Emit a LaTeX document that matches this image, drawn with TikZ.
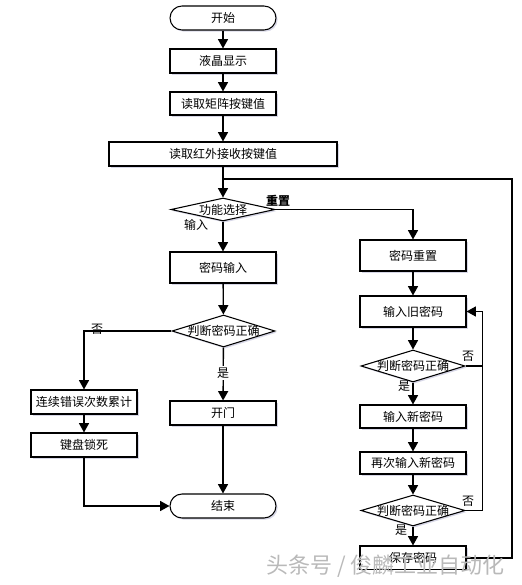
\documentclass[tikz,border=0pt]{standalone}
\usepackage{fontspec}
\setmainfont{Noto Sans CJK SC}
\usetikzlibrary{shapes.geometric,arrows.meta,shadows}
\begin{document}
\begin{tikzpicture}[x=0.75pt,y=-0.75pt,
  font=\fontsize{9}{10}\selectfont,
  sh/.style={drop shadow={shadow xshift=1.2pt,shadow yshift=-1.2pt,fill=blue!25!gray,opacity=0.25}},
  proc/.style={draw,line width=0.8pt,fill=white,sh,minimum width=79.5pt,minimum height=18pt,inner sep=0pt},
  term/.style={proc,rounded corners=9pt},
  dec/.style={draw,line width=0.8pt,fill=white,diamond,sh,inner sep=0pt,minimum width=78pt,minimum height=24pt},
  arr/.style={line width=1pt,-{Triangle[length=7pt,width=7.5pt]}},
  ln/.style={line width=1pt},
  lab/.style={inner sep=1pt}
]
\useasboundingbox (0,0) rectangle (521,585);
\begin{scope}
\clip (0,0) rectangle (521,569);
% left / main column
\node[term] (start) at (223,18) {开始};
\node[proc] (lcd) at (223,61) {液晶显示};
\node[proc,minimum height=17.25pt] (mat) at (223,103.5) {读取矩阵按键值};
\node[proc,minimum width=171pt] (ir) at (223,154) {读取红外接收按键值};
\node[dec,minimum height=17.25pt,label={center:功能选择}] (sel) at (223,209.5) {};
\node[proc,minimum height=23.25pt] (pin) at (223,267.5) {密码输入};
\node[dec,minimum width=77.25pt,label={center:判断密码正确}] (chk) at (223.5,331) {};
\node[proc] (cnt) at (84,402) {连续错误次数累计};
\node[proc] (lock) at (84,445) {键盘锁死};
\node[proc] (open) at (223,413) {开门};
\node[term] (end) at (223,506) {结束};
% right column
\node[proc,minimum height=23.25pt] (rst) at (413,255.5) {密码重置};
\node[proc,minimum height=23.25pt] (old) at (413,311.5) {输入旧密码};
\node[dec,label={center:判断密码正确}] (chk2) at (413,366) {};
\node[proc,minimum height=17.25pt] (new) at (413,416.5) {输入新密码};
\node[proc,minimum height=16.5pt] (new2) at (413,463) {再次输入新密码};
\node[dec,minimum height=23.25pt,label={center:判断密码正确}] (chk3) at (413,510.5) {};
\node[proc] (save) at (413,558) {保存密码};
\coordinate (j) at (223,179);
% connectors
\draw[arr] (start) -- (lcd);
\draw[arr] (lcd) -- (mat);
\draw[arr] (mat) -- (ir);
\draw[arr] (ir) -- (sel);
\draw[arr] (sel) -- (pin);
\draw[arr] (pin) -- (chk);
\draw[arr] (chk.west) -| (cnt.north);
\draw[arr] (cnt) -- (lock);
\draw[arr] (lock.south) |- (end.west);
\draw[arr] (chk) -- (open);
\draw[arr] (open) -- (end);
\draw[arr] (sel.east) -| (rst.north);
\draw[arr] (rst) -- (old);
\draw[arr] (old) -- (chk2);
\draw[arr] (chk2) -- (new);
\draw[arr] (new) -- (new2);
\draw[arr] (new2) -- (chk3);
\draw[arr] (chk3) -- (save);
\draw[arr] (chk2.east) -- ++(17,0) |- (old.east);
\draw[ln] (chk3.east) -- ++(17,0) |- (chk2.east);
\draw[ln] (save.east) -- (512,558) |- (j);
% labels
\node[lab] at (278,201) {\bfseries 重置};
\node[lab] at (196,225) {输入};
\node[lab] at (97,329) {否};
\node[lab,fill=white] at (223,373) {是};
\node[lab] at (468,356) {否};
\node[lab] at (404,386) {是};
\node[lab] at (468,501) {否};
\node[lab] at (401,530) {是};
\end{scope}
\node[anchor=west,inner sep=0pt,text=gray!55,font=\fontsize{16.5}{18}\selectfont] (wm) at (266,566) {头条号 / 俊麟工业自动化};
\end{tikzpicture}
\end{document}
